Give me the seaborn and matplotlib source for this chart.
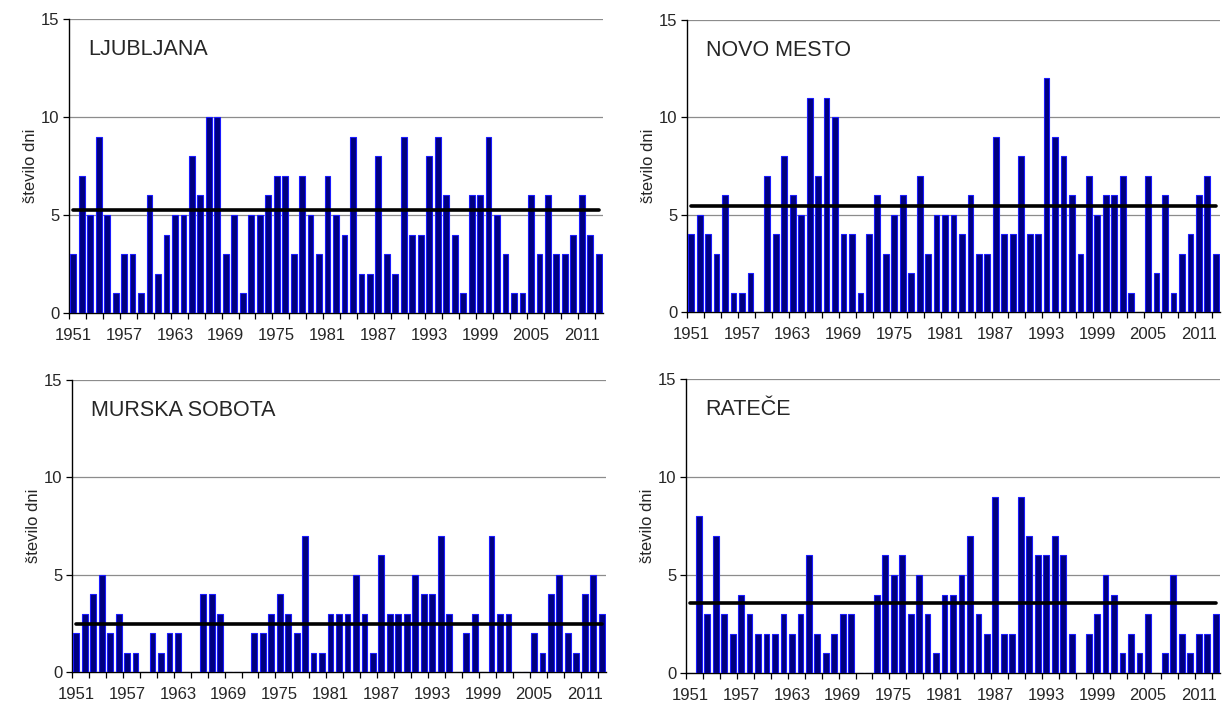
import numpy as np
import pandas as pd
import matplotlib
matplotlib.use('Agg')
import matplotlib.pyplot as plt
import seaborn as sns

# leta 1951-2013
years = list(range(1951, 2014))

ljubljana = [3, 7, 5, 9, 5, 1, 3, 3, 1, 6,
             2, 4, 5, 5, 8, 6, 10, 10, 3, 5,
             1, 5, 5, 6, 7, 7, 3, 7, 5, 3,
             7, 5, 4, 9, 2, 2, 8, 3, 2, 9,
             4, 4, 8, 9, 6, 4, 1, 6, 6, 9,
             5, 3, 1, 1, 6, 3, 6, 3, 3, 4,
             6, 4, 3]
novo_mesto = [4, 5, 4, 3, 6, 1, 1, 2, 0, 7,
              4, 8, 6, 5, 11, 7, 11, 10, 4, 4,
              1, 4, 6, 3, 5, 6, 2, 7, 3, 5,
              5, 5, 4, 6, 3, 3, 9, 4, 4, 8,
              4, 4, 12, 9, 8, 6, 3, 7, 5, 6,
              6, 7, 1, 0, 7, 2, 6, 1, 3, 4,
              6, 7, 3]
murska_sobota = [2, 3, 4, 5, 2, 3, 1, 1, 0, 2,
                 1, 2, 2, 0, 0, 4, 4, 3, 0, 0,
                 0, 2, 2, 3, 4, 3, 2, 7, 1, 1,
                 3, 3, 3, 5, 3, 1, 6, 3, 3, 3,
                 5, 4, 4, 7, 3, 0, 2, 3, 0, 7,
                 3, 3, 0, 0, 2, 1, 4, 5, 2, 1,
                 4, 5, 3]
ratece = [0, 8, 3, 7, 3, 2, 4, 3, 2, 2,
          2, 3, 2, 3, 6, 2, 1, 2, 3, 3,
          0, 0, 4, 6, 5, 6, 3, 5, 3, 1,
          4, 4, 5, 7, 3, 2, 9, 2, 2, 9,
          7, 6, 6, 7, 6, 2, 0, 2, 3, 5,
          4, 1, 2, 1, 3, 0, 1, 5, 2, 1,
          2, 2, 3]

# povprecje 1961-1990
povp = {}
for ime, v in [('LJUBLJANA', ljubljana), ('NOVO MESTO', novo_mesto),
               ('MURSKA SOBOTA', murska_sobota), ('RATEČE', ratece)]:
    povp[ime] = np.mean(v[10:40])

postaje = [('LJUBLJANA', ljubljana, [69, 603, 313, 19]),
           ('NOVO MESTO', novo_mesto, [687, 1220, 312, 20]),
           ('MURSKA SOBOTA', murska_sobota, [72, 606, 672, 380]),
           ('RATEČE', ratece, [686, 1220, 673, 379])]

sns.set_style('white')
plt.rcParams['font.family'] = ['Liberation Sans', 'DejaVu Sans']

W, H = 1222, 706
fig = plt.figure(figsize=(W / 100, H / 100), dpi=100)

for ime, vals, (x0, x1, yb, yt) in postaje:
    ax = fig.add_axes([x0 / W, 1 - yb / H, (x1 - x0) / W, (yb - yt) / H])
    df = pd.DataFrame({'leto': [str(y) for y in years], 'dni': vals})
    sns.barplot(data=df, x='leto', y='dni', ax=ax, color='#000080',
                saturation=1, width=0.68, edgecolor='#1a1aff', linewidth=0.8,
                zorder=3)
    ax.plot([0, len(years) - 1], [povp[ime], povp[ime]], color='black',
            lw=2.6, zorder=4)

    ax.set_xlim(-0.5, len(years) - 0.5)
    ax.set_ylim(0, 15)
    ax.set_yticks([0, 5, 10, 15])
    ax.set_yticklabels(['0', '5', '10', '15'], fontsize=12)
    for yv in [5, 10, 15]:
        ax.axhline(yv, color='#8c8c8c', lw=0.9, zorder=1)

    ax.set_xticks(np.arange(-0.5, len(years), 2))
    ax.set_xticklabels([])
    ax.set_xticks(np.arange(0, len(years), 6), minor=True)
    ax.set_xticklabels([str(years[i]) for i in range(0, len(years), 6)],
                       minor=True, fontsize=12)
    ax.tick_params(axis='x', which='major', length=4, width=0.9,
                   direction='out', bottom=True, color='black')
    ax.tick_params(axis='x', which='minor', length=0, pad=11)
    ax.tick_params(axis='y', length=4, width=0.9, direction='out',
                   left=True, color='black', pad=3)

    for s in ['top', 'right']:
        ax.spines[s].set_visible(False)
    for s in ['left', 'bottom']:
        ax.spines[s].set_color('black')
        ax.spines[s].set_linewidth(1.0)

    ax.set_xlabel('')
    ax.set_ylabel('število dni', fontsize=12, labelpad=2)
    ax.text(0.036, 0.895, ime, transform=ax.transAxes, fontsize=15.5,
            va='center', ha='left')

fig.savefig('out.png', dpi=100)
